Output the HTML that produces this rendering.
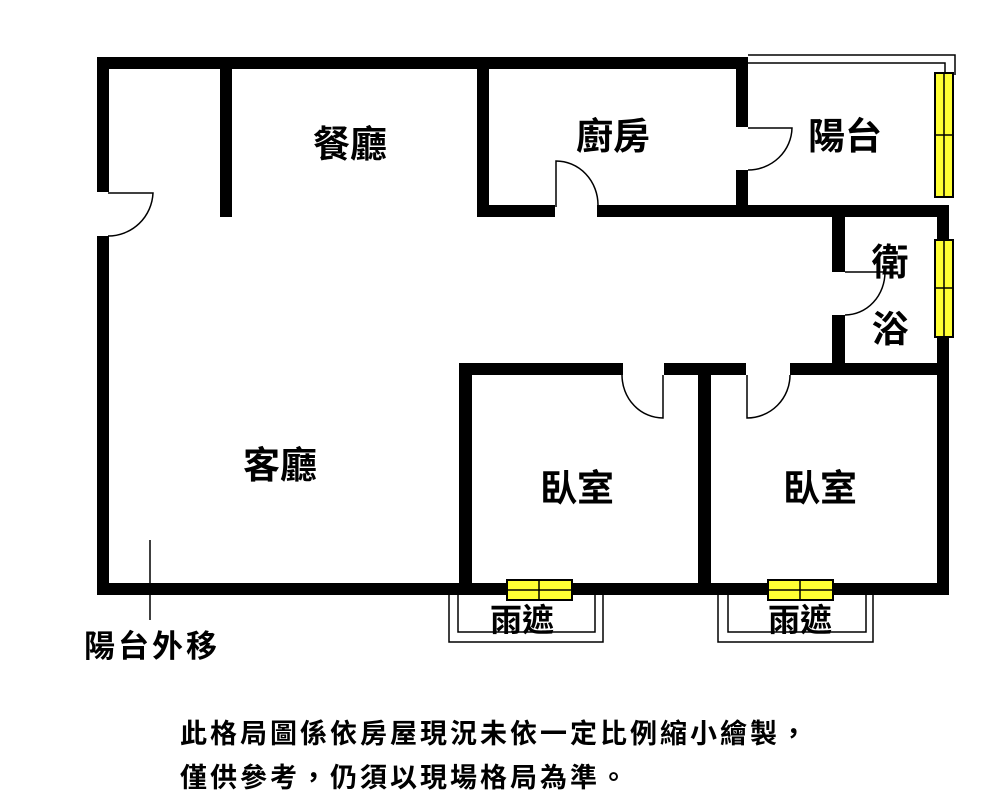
<!DOCTYPE html>
<html><head><meta charset="utf-8"><style>
html,body{margin:0;padding:0;background:#fff;}
svg{display:block;}
text{font-family:"Liberation Sans","Noto Sans CJK TC",sans-serif;fill:#000;font-weight:bold;}
</style></head><body>
<svg width="1000" height="812" viewBox="0 0 1000 812" xmlns="http://www.w3.org/2000/svg">
<rect width="1000" height="812" fill="#fff"/>
<g fill="#000">
<rect x="97" y="57" width="651" height="12"/>
<rect x="97" y="57" width="12" height="135"/>
<rect x="97" y="236" width="12" height="359"/>
<rect x="220" y="57" width="12" height="160"/>
<rect x="477" y="57" width="12" height="160"/>
<rect x="477" y="205" width="78" height="12"/>
<rect x="597" y="205" width="351" height="12"/>
<rect x="736" y="57" width="12" height="70"/>
<rect x="736" y="170" width="12" height="47"/>
<rect x="937" y="205" width="12" height="390"/>
<rect x="832" y="205" width="13" height="67"/>
<rect x="832" y="315" width="13" height="58"/>
<rect x="459" y="363" width="164" height="12"/>
<rect x="664" y="363" width="82" height="12"/>
<rect x="790" y="363" width="158" height="12"/>
<rect x="459" y="363" width="13" height="232"/>
<rect x="698" y="363" width="13" height="232"/>
<rect x="97" y="583" width="851" height="12"/>
</g>
<g fill="none" stroke="#000" stroke-width="1.5">
<path d="M748 55 H955 V75"/>
<path d="M748 63 H945 V75"/>
<path d="M108 193 H153 A45 45 0 0 1 108 236"/>
<path d="M556 207 V161 A42 44 0 0 1 598 205"/>
<path d="M748 128 H792 A44 43 0 0 1 748 170"/>
<path d="M845 272 H885 A40 43 0 0 1 845 315"/>
<path d="M663 375 V418 A41 43 0 0 1 622 375"/>
<path d="M747 375 V418 A43 43 0 0 0 790 375"/>
<path d="M449 595 V642 H603 V595"/>
<path d="M458 595 V632 H595 V595"/>
<path d="M718 595 V642 H873 V595"/>
<path d="M728 595 V632 H866 V595"/>
<path d="M150 540 V620"/>
</g>
<g stroke="#000" stroke-width="2" fill="#ffff33">
<rect x="935" y="73" width="18" height="124"/>
<rect x="935" y="240" width="18" height="97"/>
<rect x="507" y="580" width="65" height="20"/>
<rect x="768" y="580" width="65" height="20"/>
</g>
<g stroke="#000" stroke-width="1.5">
<path d="M944 73 V197 M935 135 H953"/>
<path d="M944 240 V337 M935 288 H953"/>
<path d="M507 590 H572 M539 580 V600"/>
<path d="M768 590 H833 M800 580 V600"/>
</g>
<g font-size="37">
<text x="350" y="157" text-anchor="middle">餐廳</text>
<text x="613" y="149" text-anchor="middle">廚房</text>
<text x="845" y="149" text-anchor="middle">陽台</text>
<text x="890" y="275" text-anchor="middle">衛</text>
<text x="890" y="342" text-anchor="middle">浴</text>
<text x="280" y="478" text-anchor="middle">客廳</text>
<text x="577" y="501" text-anchor="middle">臥室</text>
<text x="820" y="501" text-anchor="middle">臥室</text>
</g>
<g font-size="32">
<text x="522" y="631" text-anchor="middle">雨遮</text>
<text x="800" y="631" text-anchor="middle">雨遮</text>
</g>
<text x="84" y="657" font-size="31" letter-spacing="3">陽台外移</text>
<g font-size="27" letter-spacing="3">
<text x="180" y="743">此格局圖係依房屋現況未依一定比例縮小繪製，</text>
<text x="180" y="787">僅供參考，仍須以現場格局為準。</text>
</g>
</svg>
</body></html>
